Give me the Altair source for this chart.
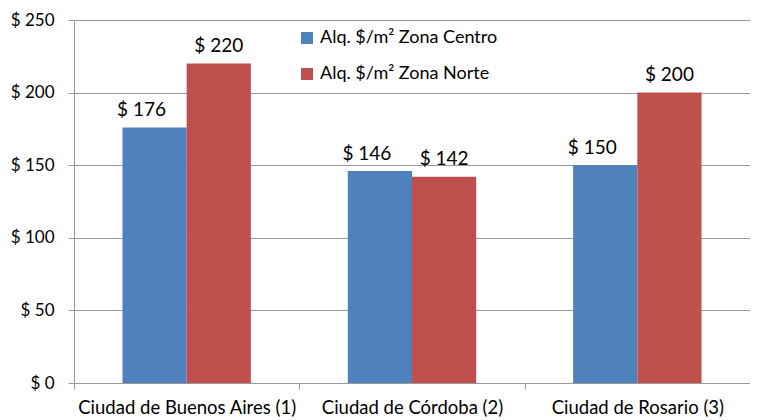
import altair as alt
import pandas as pd

ciudades = ["Ciudad de Buenos Aires (1)", "Ciudad de Córdoba (2)", "Ciudad de Rosario (3)"]
series = ["Alq. $/m² Zona Centro", "Alq. $/m² Zona Norte"]
centro = [176, 146, 150]
norte = [220, 142, 200]
colores = ["#4F81BD", "#C0504D"]

rows = []
for c, v in zip(ciudades, centro):
    rows.append({"ciudad": c, "serie": series[0], "valor": v})
for c, v in zip(ciudades, norte):
    rows.append({"ciudad": c, "serie": series[1], "valor": v})
df = pd.DataFrame(rows)

FONT = "Lato"

x = alt.X("ciudad:N", sort=ciudades, title=None,
          scale=alt.Scale(paddingInner=0, paddingOuter=0),
          axis=alt.Axis(labelAngle=0, labelFontSize=18.5, labelFont=FONT, labelColor="#000",
                        tickBand="extent", tickSize=6, tickColor="#999", domainColor="#999",
                        labelPadding=9, grid=False, labelLimit=0, labelBaseline="top"))
xo = alt.XOffset("serie:N", sort=series, scale=alt.Scale(paddingInner=0, paddingOuter=0.755))
y = alt.Y("valor:Q", title=None,
          scale=alt.Scale(domain=[0, 250], nice=False),
          axis=alt.Axis(values=[0, 50, 100, 150, 200, 250], labelExpr="'$ ' + datum.value",
                        labelFontSize=17, labelFont=FONT, labelColor="#000",
                        tickSize=6, tickColor="#999", domainColor="#999",
                        gridColor="#999", labelPadding=14))

base = alt.Chart(df).encode(x=x, xOffset=xo)

bars = base.mark_bar().encode(
    y=y,
    color=alt.Color("serie:N", sort=series, scale=alt.Scale(domain=series, range=colores),
                    legend=alt.Legend(title=None, orient="none", legendX=224, legendY=9,
                                      symbolType="square", symbolSize=144, symbolStrokeWidth=0,
                                      labelFontSize=18, labelFont=FONT, labelColor="#000",
                                      rowPadding=18, labelOffset=4, padding=0, labelLimit=0)),
)

lab_c = base.transform_filter(alt.datum.serie == series[0]).mark_text(
    fontSize=19, font=FONT, baseline="alphabetic", dy=-11, dx=-13, color="#000"
).encode(y=alt.Y("valor:Q"), text=alt.Text("label:N")).transform_calculate(label="'$ ' + datum.valor")

lab_n = base.transform_filter(alt.datum.serie == series[1]).mark_text(
    fontSize=19, font=FONT, baseline="alphabetic", dy=-12, color="#000"
).encode(y=alt.Y("valor:Q"), text=alt.Text("label:N")).transform_calculate(label="'$ ' + datum.valor")

chart = alt.layer(bars, lab_c, lab_n).properties(
    width=676, height=363,
    autosize=alt.AutoSizeParams(type="none"),
    padding={"left": 66, "top": 12, "right": 0, "bottom": 37},
).configure_view(stroke=None).configure(background="white")

chart.save("out.html", embed_options={"renderer": "svg", "actions": False})
